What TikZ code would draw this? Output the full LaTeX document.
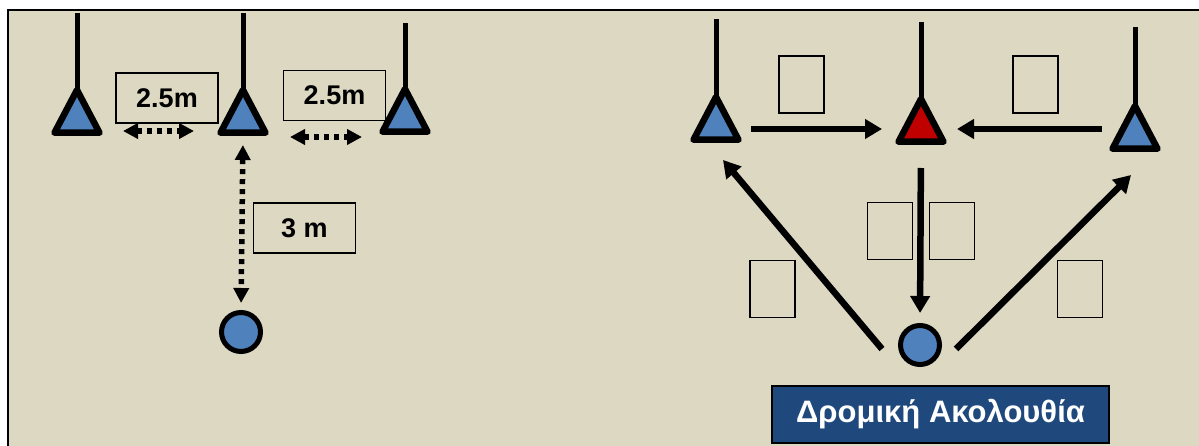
\documentclass[tikz,border=0pt]{standalone}
\usepackage{fontspec}
\setmainfont{Liberation Sans}
\usetikzlibrary{arrows.meta}
\definecolor{fieldbg}{RGB}{221,216,194}
\definecolor{coneblue}{RGB}{79,129,189}
\definecolor{conered}{RGB}{192,0,0}
\definecolor{bannerblue}{RGB}{31,73,125}
\tikzset{
  pics/cone/.style 2 args={code={
    \draw[line width=6.5pt,line join=round,fill=#1]
      (-22.5,-3.25) -- (22.5,-3.25) -- (0,-46) -- cycle;
    \draw[line width=5pt] (0,-46) -- (0,-#2);
  }},
  lbl/.style={draw,line width=1.6pt,inner sep=0pt,minimum width=102pt,
    minimum height=50pt,font=\fontsize{27}{32}\selectfont\bfseries},
  blank/.style={draw,line width=1.6pt,inner sep=0pt,minimum width=45pt,
    minimum height=57pt},
  ball/.style={circle,draw,line width=5pt,fill=coneblue,inner sep=0pt,
    minimum size=39pt},
  dotarrow/.style={line width=5.5pt,dash pattern=on 5pt off 5pt,
    {Triangle[length=15pt,width=15pt]}-{Triangle[length=15pt,width=15pt]}},
  runarrow/.style={line width=6.5pt,-{Triangle[length=17pt,width=19pt]}},
}
\begin{document}
\begin{tikzpicture}[x=1pt,y=-1pt]
\useasboundingbox (0,0) rectangle (1199,446);
% playing field
\fill[fieldbg] (8,10) rectangle (1199,446);
\draw[line width=2.5pt] (8,446) -- (8,10) -- (1199,10);

% ---- set-up: three cones and the start point
\coordinate (c1) at (77,136);
\coordinate (c2) at (243,136);
\coordinate (c3) at (405,135);
\pic at (c1) {cone={coneblue}{123}};
\pic at (c2) {cone={coneblue}{123}};
\pic at (c3) {cone={coneblue}{112}};
\node[ball] (s) at (241,332) {};

\node[lbl] (d1) at (167,98) {2.5m};
\node[lbl] (d2) at (334.5,95.5) {2.5m};
\node[lbl] (d3) at (304.5,228) {3 m\hspace{19pt}};

\draw[dotarrow,shorten <=46pt,shorten >=49pt]
  ([yshift=5pt]c1) -- ([yshift=5pt]c2);
\draw[dotarrow,shorten <=47pt,shorten >=43pt]
  ([yshift=-1pt]c2) -- ([yshift=-2pt]c3);
\draw[dotarrow,shorten <=9pt,shorten >=7pt] (c2) -- (s.north);

% ---- running sequence
\coordinate (a) at (716,143);
\coordinate (r) at (921,145);
\coordinate (b) at (1135,152);
\pic at (a) {cone={coneblue}{124}};
\pic at (r) {cone={conered}{123}};
\pic at (b) {cone={coneblue}{125}};
\node[ball] (p) at (920,345) {};

\draw[runarrow,shorten <=35pt,shorten >=39pt]
  ([yshift=14pt]a) -- ([yshift=16pt]r);
\draw[runarrow,shorten <=33pt,shorten >=36pt]
  ([yshift=23pt]b) -- ([yshift=16pt]r);
\draw[runarrow,shorten <=23pt,shorten >=10pt] (r) -- (p.north);
\draw[runarrow] ([xshift=-16pt,yshift=-4pt]p.west)
  -- ([xshift=7pt,yshift=-17pt]a);
\draw[runarrow] ([xshift=14pt,yshift=-4pt]p.east)
  -- ([xshift=-4pt,yshift=-23pt]b);

\node[blank] (k1) at (801.5,84.5) {};
\node[blank] (k2) at (1035.5,84.5) {};
\node[blank] (k3) at (890,231) {};
\node[blank] (k4) at (952,231) {};
\node[blank] (k5) at (772.5,289) {};
\node[blank] (k6) at (1080,289) {};

\node[draw,line width=1.2pt,fill=bannerblue,text=white,inner sep=0pt,
  minimum width=337pt,minimum height=57pt,
  font=\fontsize{31}{36}\selectfont\bfseries] (t) at (940.5,414.5)
  {Δρομική Ακολουθία};
\end{tikzpicture}
\end{document}
